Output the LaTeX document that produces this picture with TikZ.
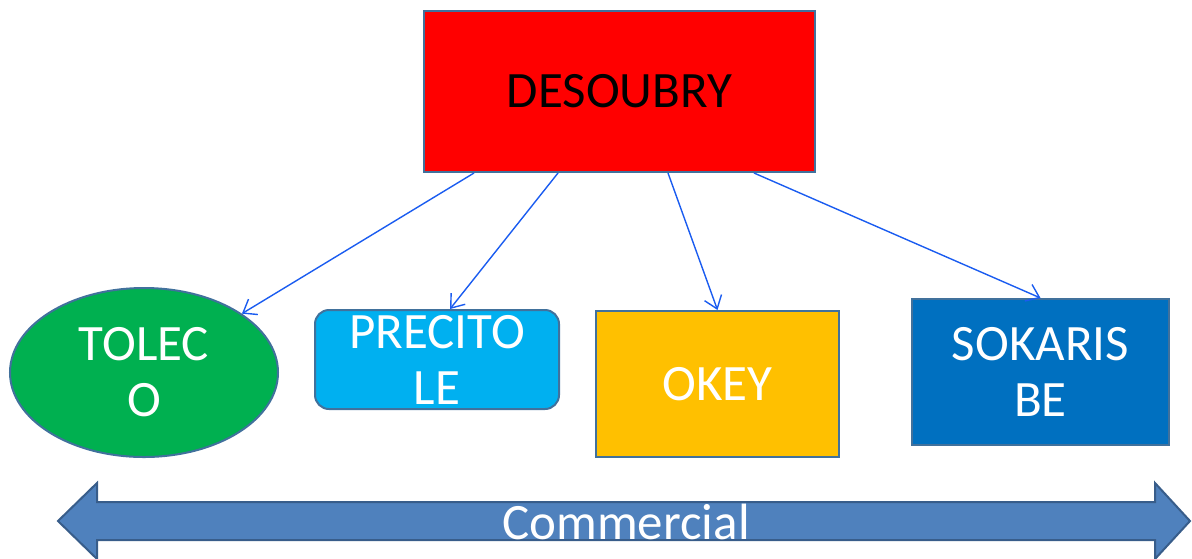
\documentclass[tikz,border=0pt]{standalone}
\usepackage{fontspec}
\setmainfont{Carlito}
\usetikzlibrary{shapes.geometric,arrows.meta}
\definecolor{edgeblue}{HTML}{41719C}
\definecolor{linkblue}{HTML}{1A5CF0}
\definecolor{bandblue}{HTML}{4F81BD}
\definecolor{bandedge}{HTML}{385D8A}
\definecolor{tolecogreen}{HTML}{00B050}
\definecolor{precitocyan}{HTML}{00B0F0}
\definecolor{okeyamber}{HTML}{FFC000}
\definecolor{sokarisblue}{HTML}{0070C0}
\begin{document}
\begin{tikzpicture}[x=0.5pt, y=-0.5pt,
  every node/.style = {align=center, inner sep=0pt,
     font=\fontsize{25.5}{28}\selectfont},
  box/.style = {draw=edgeblue, line width=1pt, text=white},
  link/.style = {draw=linkblue, line width=0.7pt,
     -{Straight Barb[length=6pt,width=9pt]}}]
\useasboundingbox (0,0) rectangle (1192,558);
\node [box, fill=red, text=black, minimum width=195.5pt,
  minimum height=80.5pt] (desoubry) at (619.5,91.5) {DESOUBRY};
\node [box, ellipse, fill=tolecogreen, minimum width=134pt,
  minimum height=84.5pt] (toleco) at (144,372.5) {TOLEC\\O};
\node [box, fill=precitocyan, rounded corners=7pt, minimum width=122pt,
  minimum height=49.5pt, label={[text=white]center:PRECITO\\LE}]
  (precitole) at (437,359.5) {};
\node [box, fill=okeyamber, minimum width=121.5pt,
  minimum height=73pt] (okey) at (717.5,384) {OKEY};
\node [box, fill=sokarisblue, minimum width=128.5pt,
  minimum height=73pt] (sokaris) at (1040.5,372) {SOKARIS\\BE};
\draw [link] ([xshift=-72.75pt]desoubry.south) -- (toleco.31);
\draw [link] ([xshift=-30.75pt]desoubry.south) -- ([xshift=6.5pt]precitole.north);
\draw [link] ([xshift=24.25pt]desoubry.south) -- (okey.north);
\draw [link] ([xshift=67.25pt]desoubry.south) -- (sokaris.north);
\draw [fill=bandblue, draw=bandedge, line width=1pt]
  (58,521) -- (97,483) -- (97,502) -- (1155,502) -- (1155,483)
  -- (1190,521) -- (1155,559) -- (1155,540) -- (97,540) -- (97,559) -- cycle;
\node [text=white] (commercial) at (626,522) {Commercial};
\end{tikzpicture}
\end{document}
